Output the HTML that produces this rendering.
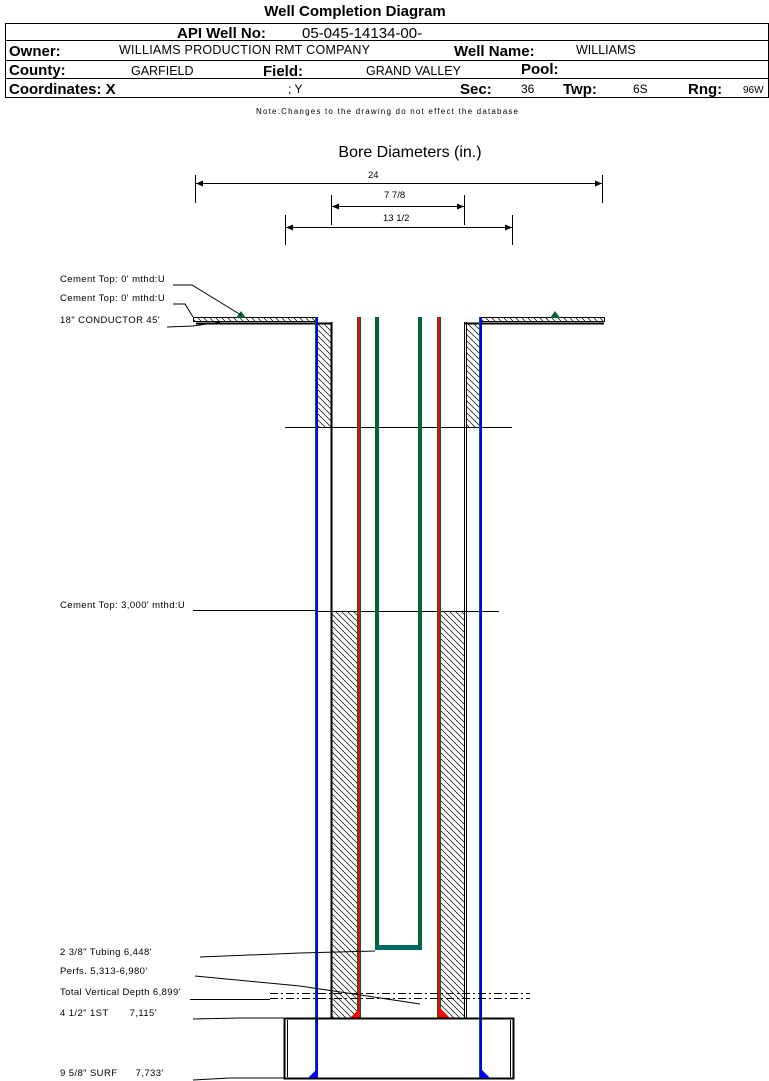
<!DOCTYPE html>
<html><head><meta charset="utf-8"><style>
body{margin:0;background:#fff;width:769px;height:1081px;overflow:hidden;font-family:"Liberation Sans",Arial,sans-serif}
svg{position:absolute;left:0;top:0}
</style></head><body>
<svg width="769" height="1081" viewBox="0 0 769 1081" xmlns="http://www.w3.org/2000/svg" font-family="Liberation Sans, Arial, sans-serif">
<defs>
<pattern id="h" width="6" height="6" patternUnits="userSpaceOnUse"><path d="M0,0 L6,6 M-3,3 L3,9 M3,-3 L9,3" stroke="#000" stroke-width="0.7"/></pattern>
</defs>
<text x="355" y="16" font-size="15" font-weight="bold" text-anchor="middle">Well Completion Diagram</text>
<rect x="5.5" y="23.5" width="763" height="74" fill="none" stroke="#000"/>
<line x1="5" y1="40.5" x2="769" y2="40.5" stroke="#000"/>
<line x1="5" y1="60.5" x2="769" y2="60.5" stroke="#000"/>
<line x1="5" y1="78.5" x2="769" y2="78.5" stroke="#000"/>
<text x="177" y="38" font-size="15" font-weight="bold">API Well No:</text>
<text x="302" y="38" font-size="15">05-045-14134-00-</text>
<text x="9" y="56" font-size="15" font-weight="bold">Owner:</text>
<text x="119" y="54" font-size="12.5" textLength="251">WILLIAMS PRODUCTION RMT COMPANY</text>
<text x="454" y="56" font-size="15" font-weight="bold">Well Name:</text>
<text x="576" y="54" font-size="12.5">WILLIAMS</text>
<text x="9" y="75" font-size="15" font-weight="bold">County:</text>
<text x="131" y="75" font-size="12.5">GARFIELD</text>
<text x="263" y="76" font-size="15" font-weight="bold">Field:</text>
<text x="366" y="75" font-size="12.5">GRAND VALLEY</text>
<text x="521" y="74" font-size="15" font-weight="bold">Pool:</text>
<text x="9" y="94" font-size="15" font-weight="bold">Coordinates: X</text>
<text x="288" y="93" font-size="12">; Y</text>
<text x="460" y="94" font-size="15" font-weight="bold">Sec:</text>
<text x="521" y="93" font-size="12">36</text>
<text x="563" y="94" font-size="15" font-weight="bold">Twp:</text>
<text x="633" y="93" font-size="12">6S</text>
<text x="688" y="94" font-size="15" font-weight="bold">Rng:</text>
<text x="743" y="93" font-size="10">96W</text>
<text x="387" y="114" font-size="8" text-anchor="middle" textLength="262">Note:Changes to the drawing do not effect the database</text>

<text x="410" y="157" font-size="16" text-anchor="middle">Bore Diameters (in.)</text>
<g stroke="#000" stroke-width="1" fill="none">
<line x1="195.5" y1="175" x2="195.5" y2="203"/><line x1="602.5" y1="175" x2="602.5" y2="203"/><line x1="196" y1="183.5" x2="602" y2="183.5"/>
<line x1="331.5" y1="195" x2="331.5" y2="225"/><line x1="464.5" y1="195" x2="464.5" y2="225"/><line x1="332" y1="206.5" x2="464" y2="206.5"/>
<line x1="285.5" y1="215" x2="285.5" y2="245"/><line x1="512.5" y1="215" x2="512.5" y2="245"/><line x1="286" y1="227.5" x2="512" y2="227.5"/>
</g>
<g fill="#000"><path d="M196,183.5 l7,-3 v6z M602,183.5 l-7,-3 v6z M332,206.5 l7,-3 v6z M464,206.5 l-7,-3 v6z M286,227.5 l7,-3 v6z M512,227.5 l-7,-3 v6z"/></g>
<text x="368" y="178" font-size="9.5">24</text>
<text x="384" y="198" font-size="9.5">7 7/8</text>
<text x="383" y="221" font-size="9.5">13 1/2</text>

<rect x="193.5" y="317.5" width="123" height="4" fill="url(#h)" stroke="#000"/>
<rect x="480.5" y="317.5" width="124" height="4" fill="url(#h)" stroke="#000"/>
<line x1="196" y1="323.5" x2="331" y2="323.5" stroke="#000" stroke-width="2"/>
<line x1="465" y1="323.5" x2="604" y2="323.5" stroke="#000" stroke-width="2"/>
<path d="M236,318 l5,-7 l5,7z" fill="#063"/><path d="M550,318 l5,-7 l5,7z" fill="#063"/>
<rect x="318" y="324" width="13" height="103" fill="url(#h)"/>
<rect x="466" y="324" width="14" height="103" fill="url(#h)"/>
<rect x="332" y="611" width="25" height="407" fill="url(#h)"/>
<rect x="440" y="611" width="24" height="407" fill="url(#h)"/>
<line x1="285" y1="427.5" x2="512" y2="427.5" stroke="#000"/>
<line x1="315" y1="611.5" x2="499" y2="611.5" stroke="#000"/>
<line x1="331.5" y1="322" x2="331.5" y2="1019" stroke="#000" stroke-width="2"/>
<line x1="464.5" y1="322" x2="464.5" y2="1019" stroke="#000" stroke-width="1"/>
<line x1="466.5" y1="322" x2="466.5" y2="1019" stroke="#000" stroke-width="1"/>
<rect x="315" y="317" width="3" height="762" fill="#063"/><rect x="316" y="317" width="2" height="762" fill="#00f"/>
<rect x="479" y="317" width="3" height="762" fill="#063"/><rect x="480" y="317" width="2" height="762" fill="#00f"/>
<rect x="357" y="317" width="4" height="701" fill="#063"/><rect x="358" y="317" width="2" height="701" fill="#f00"/>
<rect x="437" y="317" width="4" height="701" fill="#063"/><rect x="438" y="317" width="2" height="701" fill="#f00"/>
<path d="M350,1018 l10,-10 v10z" fill="#f00"/><path d="M440,1018 v-10 l10,10z" fill="#f00"/>
<rect x="375" y="317" width="4" height="633" fill="#063"/>
<rect x="418" y="317" width="4" height="633" fill="#063"/>
<rect x="375" y="945" width="47" height="5" fill="#066"/>
<rect x="284.5" y="1018.5" width="229" height="60" fill="none" stroke="#000" stroke-width="2"/>
<line x1="287.5" y1="1020" x2="287.5" y2="1077" stroke="#000"/>
<line x1="510.5" y1="1020" x2="510.5" y2="1077" stroke="#000"/>
<path d="M308,1078 l9,-9 v9z" fill="#00f"/><path d="M481,1078 v-9 l9,9z" fill="#00f"/>
<g stroke="#000" stroke-dasharray="8,3,2,3">
<line x1="270" y1="993.5" x2="530" y2="993.5"/>
<line x1="270" y1="998.5" x2="530" y2="998.5"/>
</g>
<g font-size="9.5" fill="#000" letter-spacing="0.4">
<text x="60" y="282">Cement Top: 0' mthd:U</text>
<text x="60" y="301">Cement Top: 0' mthd:U</text>
<text x="60" y="323">18" CONDUCTOR  45'</text>
<text x="60" y="608">Cement Top: 3,000' mthd:U</text>
<text x="60" y="955">2 3/8" Tubing 6,448'</text>
<text x="60" y="974">Perfs. 5,313-6,980'</text>
<text x="60" y="995">Total Vertical Depth 6,899'</text>
<text x="60" y="1016" xml:space="preserve">4 1/2" 1ST       7,115'</text>
<text x="60" y="1076" xml:space="preserve">9 5/8" SURF      7,733'</text>
</g>
<g stroke="#000" fill="none" stroke-width="1">
<polyline points="173,285 192,285 241,315"/>
<polyline points="173,304 185,304 193,317"/>
<polyline points="167,327 193,326 220,322"/>
<line x1="193" y1="610.5" x2="315" y2="610.5"/>
<polyline points="200,957 300,953 375,951"/>
<polyline points="195,976 300,986 420,1004"/>
<line x1="190" y1="999.5" x2="270" y2="999.5"/>
<polyline points="193,1019 240,1018 284,1018"/>
<polyline points="193,1080 230,1078 284,1078"/>
</g>
</svg>
</body></html>
